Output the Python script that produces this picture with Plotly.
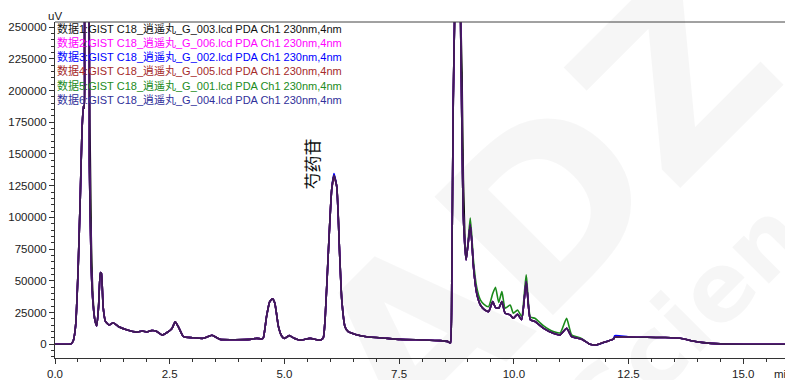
import plotly.graph_objects as go

# Retention time grid (min) shared by all six runs
rt_min = [
    0.00, 0.20, 0.35, 0.40, 0.45, 0.50, 0.55, 0.59, 0.62, 0.64, 0.67, 0.71, 0.75, 0.79, 0.83, 0.87, 0.91, 0.95, 0.99, 1.01,
    1.05, 1.10, 1.18, 1.27, 1.38, 1.56, 1.78, 1.90, 2.00, 2.10, 2.20, 2.33, 2.45, 2.55, 2.62, 2.70, 2.80, 3.00, 3.23, 3.42,
    3.60, 4.25, 4.40, 4.50, 4.54, 4.61, 4.68, 4.74, 4.79, 4.87, 4.94, 5.00, 5.11, 5.20, 5.34, 5.56, 5.73, 5.80, 5.85, 5.89,
    5.96, 6.03, 6.08, 6.14, 6.20, 6.25, 6.32, 6.39, 6.55, 6.79, 7.20, 7.52, 8.00, 8.39, 8.55, 8.60, 8.62, 8.65, 8.68, 8.72,
    8.78, 8.83, 8.87, 8.90, 8.96, 9.00, 9.05, 9.09, 9.12, 9.19, 9.27, 9.35, 9.45, 9.54, 9.60, 9.67, 9.74, 9.81, 9.92, 9.99,
    10.08, 10.17, 10.27, 10.36, 10.46, 10.65, 10.86, 11.01, 11.15, 11.26, 11.48, 11.66, 11.80, 12.00, 12.17, 12.20, 12.50, 12.90, 13.30, 13.63,
    13.90, 14.13, 14.50, 15.00, 15.91,
]

# Detector response (uV) per run
run1_g003 = [
    0, 0, 300, 3000, 15000, 55000, 115000, 170000, 188000, 186000, 290000, 290000, 210000, 85000, 36000, 19000, 14500, 30000, 56500, 56000,
    29000, 18000, 15200, 17000, 14000, 11400, 9600, 10500, 9800, 10800, 10500, 7300, 9500, 12500, 17800, 13000, 6000, 5200, 4700, 7100,
    3900, 3900, 4700, 4200, 5000, 21800, 33600, 35800, 32600, 13900, 6500, 4700, 6800, 5000, 3300, 4700, 3300, 3600, 5500, 21800,
    74500, 121800, 132900, 124500, 74500, 35000, 13900, 10000, 7800, 6000, 4800, 3900, 3400, 2900, 2300, 1300, 1200, 61000, 193000, 280000,
    400000, 280000, 215000, 130000, 72000, 78000, 94200, 78000, 61300, 40300, 31000, 27500, 25800, 33600, 29000, 28400, 33600, 24500, 23200, 20500,
    23700, 19300, 49500, 19300, 18000, 12600, 8700, 7400, 12600, 6100, 4000, 0, -500, 2000, 4000, 5500, 5800, 5500, 5300, 4700,
    2600, 1300, 300, 0, 0,
]
run2_g006 = [
    0, 0, 300, 3000, 15000, 55000, 115000, 170000, 188000, 186000, 290000, 290000, 140000, 60000, 32000, 19000, 14500, 30000, 56500, 56000,
    29000, 18000, 15200, 17000, 14000, 11400, 9600, 10500, 9800, 10800, 10500, 7300, 9500, 12500, 17800, 13000, 6000, 5200, 4700, 7100,
    3900, 3900, 4700, 4200, 5000, 21800, 33600, 35800, 32600, 13900, 6500, 4700, 6800, 5000, 3300, 4700, 3300, 3600, 5500, 21800,
    74500, 121800, 132900, 124500, 74500, 35000, 13900, 10000, 7800, 6000, 4800, 3900, 3400, 2900, 2300, 1300, 1200, 61000, 193000, 280000,
    400000, 280000, 167000, 100800, 66500, 78000, 94200, 78000, 61300, 40300, 31000, 27500, 25800, 33600, 29000, 28400, 33600, 24500, 23200, 20500,
    23700, 19300, 49500, 19300, 18000, 12600, 8700, 7400, 12600, 6100, 4000, 0, -500, 2000, 4000, 5500, 5800, 5500, 5300, 4700,
    2600, 1300, 300, 0, 0,
]
run3_g002 = [
    0, 0, 300, 3000, 15000, 55000, 115000, 170000, 188000, 186000, 290000, 290000, 140000, 60000, 32000, 19000, 14500, 30000, 56500, 56000,
    29000, 18000, 15200, 17000, 14000, 11400, 9600, 10500, 9800, 10800, 10500, 7300, 9500, 12500, 17800, 13000, 6000, 5200, 4700, 7100,
    3900, 3900, 4700, 4200, 5000, 21800, 33600, 35800, 32600, 13900, 6500, 4700, 6800, 5000, 3300, 4700, 3300, 3600, 5500, 21800,
    74500, 121800, 134500, 124500, 74500, 35000, 13900, 10000, 7800, 6000, 4800, 3900, 3400, 2900, 2300, 1300, 1200, 61000, 193000, 280000,
    400000, 280000, 167000, 100800, 66500, 78000, 94200, 78000, 61300, 40300, 31000, 27500, 25800, 33600, 29000, 28400, 33600, 24500, 23200, 20500,
    23700, 19300, 49500, 19300, 18000, 12600, 8700, 7400, 12600, 6100, 4000, 0, -500, 2000, 4200, 6800, 5800, 5500, 5300, 4700,
    2600, 1300, 300, 0, 0,
]
run4_g005 = [
    0, 0, 300, 3000, 15000, 55000, 115000, 170000, 188000, 186000, 290000, 290000, 140000, 60000, 32000, 19000, 14500, 30000, 56500, 56000,
    29000, 18000, 15200, 17000, 14000, 11400, 9600, 10500, 9800, 10800, 10500, 7300, 9500, 12500, 17800, 13000, 6000, 5200, 4700, 7100,
    3900, 3900, 4700, 4200, 5000, 21800, 33600, 35800, 32600, 13900, 6500, 4700, 6800, 5000, 3300, 4700, 3300, 3600, 5500, 21800,
    74500, 121800, 132900, 124500, 74500, 35000, 13900, 10000, 7800, 6000, 4800, 3900, 3400, 2900, 2300, 1300, 1200, 61000, 193000, 280000,
    400000, 280000, 167000, 100800, 66500, 78000, 94200, 78000, 61300, 40300, 31000, 27500, 25800, 33600, 29000, 28400, 33600, 24500, 23200, 20500,
    23700, 19300, 49500, 19300, 18000, 12600, 8700, 7400, 12600, 6100, 4000, 0, -500, 2000, 4000, 5500, 5800, 5500, 5300, 4700,
    2600, 1300, 300, 0, 0,
]
run5_g001 = [
    0, 0, 300, 3000, 15000, 55000, 115000, 170000, 188000, 186000, 290000, 290000, 140000, 60000, 32000, 19000, 14500, 30000, 56500, 56000,
    29000, 18000, 15200, 17000, 14000, 11400, 9600, 10500, 9800, 10800, 10500, 7300, 9500, 12500, 17800, 13000, 6000, 5200, 4700, 7100,
    3900, 3900, 4700, 4200, 5000, 21800, 33600, 35800, 32600, 13900, 6500, 4700, 6800, 5000, 3300, 4700, 3300, 3600, 5500, 21800,
    74500, 121800, 132900, 124500, 74500, 35000, 13900, 10000, 7800, 6000, 4800, 3900, 3400, 2900, 2300, 1300, 1200, 61000, 193000, 280000,
    400000, 280000, 167000, 100800, 66500, 80000, 99500, 82000, 66000, 45000, 35000, 31500, 29700, 40000, 45000, 33000, 41500, 28500, 31000, 24500,
    27000, 22000, 54700, 21500, 20500, 14500, 10000, 9000, 20500, 7500, 4500, 0, -500, 2000, 4000, 5500, 5800, 5500, 5300, 4700,
    2600, 1300, 300, 0, 0,
]
run6_g004 = [
    0, 0, 300, 3000, 15000, 55000, 115000, 170000, 188000, 186000, 290000, 290000, 140000, 60000, 32000, 19000, 14500, 30000, 56500, 56000,
    29000, 18000, 15200, 17000, 14000, 11400, 9600, 10500, 9800, 10800, 10500, 7300, 9500, 12500, 17800, 13000, 6000, 5200, 4700, 7100,
    3900, 3900, 4700, 4200, 5000, 21800, 33600, 35800, 32600, 13900, 6500, 4700, 6800, 5000, 3300, 4700, 3300, 3600, 5500, 21800,
    74500, 121800, 132900, 124500, 74500, 35000, 13900, 10000, 7800, 6000, 4800, 3900, 3400, 2900, 2300, 1300, 1200, 61000, 193000, 280000,
    400000, 280000, 167000, 100800, 66500, 78000, 94200, 78000, 61300, 40300, 31000, 27500, 25800, 33600, 29000, 28400, 33600, 24500, 23200, 20500,
    23700, 19300, 49500, 19300, 18000, 12600, 8700, 7400, 12600, 6100, 4000, 0, -500, 2000, 4000, 5500, 5800, 5500, 5300, 4700,
    2600, 1300, 300, 0, 0,
]

run_labels = [
    "数据1:GIST C18_逍遥丸_G_003.lcd PDA Ch1 230nm,4nm",
    "数据2:GIST C18_逍遥丸_G_006.lcd PDA Ch1 230nm,4nm",
    "数据3:GIST C18_逍遥丸_G_002.lcd PDA Ch1 230nm,4nm",
    "数据4:GIST C18_逍遥丸_G_005.lcd PDA Ch1 230nm,4nm",
    "数据5:GIST C18_逍遥丸_G_001.lcd PDA Ch1 230nm,4nm",
    "数据6:GIST C18_逍遥丸_G_004.lcd PDA Ch1 230nm,4nm",
]
run_values = [run1_g003, run2_g006, run3_g002, run4_g005, run5_g001, run6_g004]
line_colors = ["#000000", "#ff00ff", "#0000ff", "#8b1a1a", "#1a8a1a", "#1e1e70"]
text_colors = ["#111111", "#ff00ff", "#0000ff", "#a52a2a", "#228b22", "#30309a"]
line_opacity = [1, 1, 1, 1, 1, 0.7]
# stacking order of the traces (bottom to top)
draw_order = [0, 4, 1, 2, 3, 5]

peak_name = "芍药苷"
peak_label_rt = 5.60
peak_label_uv = 142400

x_ticks = [0.0, 2.5, 5.0, 7.5, 10.0, 12.5, 15.0]

FONT = "Liberation Sans, Arial, Noto Sans CJK SC, sans-serif"
AXIS_COLOR = "#333333"

fig = go.Figure()
for k in draw_order:
    fig.add_trace(go.Scatter(
        x=rt_min, y=run_values[k], mode="lines", name=run_labels[k],
        line=dict(color=line_colors[k], width=1.6, shape="spline", smoothing=0.5),
        opacity=line_opacity[k], showlegend=False, hoverinfo="skip",
    ))

annotations = []
# run list in the upper-left corner of the plot
for i, (label, col) in enumerate(zip(run_labels, text_colors)):
    annotations.append(dict(
        xref="paper", yref="paper", x=0.0, y=1 - (6 + i * 14.3) / 336,
        xanchor="left", yanchor="middle", text=label, showarrow=False,
        font=dict(family=FONT, size=11, color=col),
    ))

# compound label on the main peak
annotations.append(dict(
    x=peak_label_rt, y=peak_label_uv, xref="x", yref="y", text=peak_name,
    textangle=-90, showarrow=False, xanchor="center", yanchor="middle",
    font=dict(family="Noto Sans CJK SC", size=17, color="#111111"),
))

# axis unit captions
annotations.append(dict(
    xref="paper", yref="paper", x=0, y=1 + 6 / 336, text="uV", showarrow=False,
    xanchor="center", yanchor="middle", font=dict(family=FONT, size=11.5, color="#222222"),
))
annotations.append(dict(
    xref="paper", yref="paper", x=(771.5 - 55) / 730, y=-16 / 336, text="min", showarrow=False,
    xanchor="left", yanchor="middle", font=dict(family=FONT, size=11.5, color="#222222"),
))

# faint background watermark
annotations.append(dict(
    xref="paper", yref="paper", x=(545 - 55) / 730, y=1 - (210 - 22) / 336, text="<b>ADZ</b>",
    textangle=-45, showarrow=False, xanchor="center", yanchor="middle",
    font=dict(family="DejaVu Sans", size=230, color="rgba(0,0,0,0.035)"),
))
annotations.append(dict(
    xref="paper", yref="paper", x=(728 - 55) / 730, y=1 - (278 - 22) / 336, text="<b>Science</b>",
    textangle=-45, showarrow=False, xanchor="center", yanchor="middle",
    font=dict(family="DejaVu Sans", size=95, color="rgba(0,0,0,0.035)"),
))

fig.update_layout(
    width=785, height=380,
    margin=dict(l=55, r=0, t=22, b=22),
    paper_bgcolor="white", plot_bgcolor="white",
    font=dict(family=FONT, size=11.5, color="#222222"),
    annotations=annotations,
    shapes=[dict(type="line", xref="paper", yref="paper", x0=0, x1=1, y0=1, y1=1,
                 line=dict(color="#444444", width=1))],
    xaxis=dict(
        range=[0, 15.91], tickvals=x_ticks, tickformat=".1f",
        ticks="outside", ticklen=5, tickcolor=AXIS_COLOR, tickwidth=1,
        showline=True, linecolor=AXIS_COLOR, linewidth=1,
        showgrid=False, zeroline=False,
        minor=dict(dtick=0.5, tick0=0, ticks="outside", ticklen=3, tickcolor=AXIS_COLOR, showgrid=False),
        tickfont=dict(family=FONT, size=11.5, color="#222222"),
    ),
    yaxis=dict(
        range=[-10800, 254000], dtick=25000, tick0=0, tickformat="d",
        ticks="outside", ticklen=5, tickcolor=AXIS_COLOR, tickwidth=1,
        showline=True, linecolor=AXIS_COLOR, linewidth=1,
        showgrid=False, zeroline=False,
        minor=dict(dtick=5000, tick0=0, ticks="outside", ticklen=3, tickcolor=AXIS_COLOR, showgrid=False),
        tickfont=dict(family=FONT, size=11.5, color="#222222"),
    ),
)

fig.write_html("out.html", config={"displayModeBar": False})
